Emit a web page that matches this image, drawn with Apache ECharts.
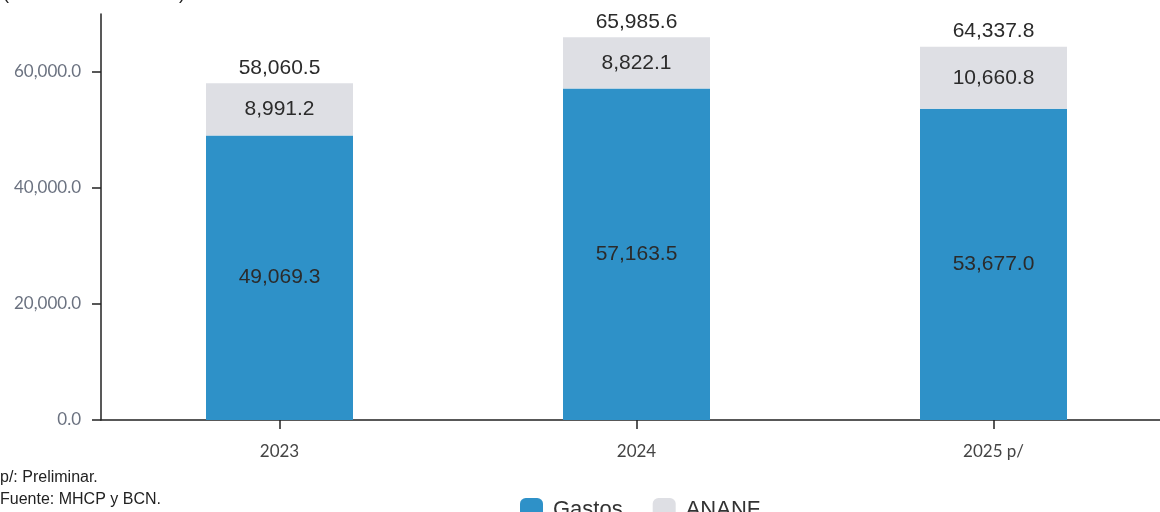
<!DOCTYPE html>
<html><head><meta charset="utf-8">
<script src="https://cdn.jsdelivr.net/npm/echarts@6/dist/echarts.min.js"></script>
<style>html,body{margin:0;padding:0;background:#fff;}#c{width:1160px;height:512px;}</style>
</head><body><div id="c"></div>
<script>
const categories = ['2023', '2024', '2025 p/'];
const gastos = [49069.3, 57163.5, 53677.0];
const ananf = [8991.2, 8822.1, 10660.8];
const totals = [58060.5, 65985.6, 64337.8];
const yTicks = [0, 20000, 40000, 60000];

const fmt = v => Number(v).toLocaleString('en-US', {minimumFractionDigits: 1, maximumFractionDigits: 1});
const chart = echarts.init(document.getElementById('c'), null, {renderer: 'canvas'});
const labelFont = {fontFamily: 'Liberation Sans', fontSize: 21, color: '#2b2b2b'};
chart.setOption({
  animation: false,
  grid: {left: 101, width: 1071, top: 14, bottom: 92, containLabel: false, outerBoundsMode: 'none'},
  graphic: [
    {type: 'text', left: 3, top: -15, style: {text: '(Millones de córdobas)', font: '18px "Liberation Sans"', fill: '#222'}},
    {type: 'text', left: 0, top: 470, style: {text: 'p/: Preliminar.', font: '16px "Liberation Sans"', fill: '#222'}},
    {type: 'text', left: 0, top: 492, style: {text: 'Fuente: MHCP y BCN.', font: '16px "Liberation Sans"', fill: '#222'}}
  ],
  legend: {
    bottom: -14, left: 515, itemWidth: 23, itemHeight: 23, itemGap: 30,
    icon: 'roundRect',
    textStyle: {fontFamily: 'Liberation Sans', fontSize: 22, color: '#333', padding: [0, 0, 0, 5]},
    data: ['Gastos', 'ANANF']
  },
  xAxis: {
    type: 'category', data: categories,
    axisLine: {lineStyle: {color: '#222', width: 1.5}},
    axisTick: {show: true, alignWithLabel: true, length: 9, lineStyle: {color: '#222', width: 1.5}},
    axisLabel: {margin: 23, fontFamily: 'Lato', fontSize: 17, color: '#444'}
  },
  yAxis: {
    type: 'value', min: 0, max: 70000, interval: 20000,
    splitLine: {show: false},
    axisLine: {show: true, lineStyle: {color: '#222', width: 1.5}},
    axisTick: {show: true, length: 9, lineStyle: {color: '#222', width: 1.5}},
    axisLabel: {margin: 20, fontFamily: 'Lato', fontSize: 17, color: '#6b7280', showMaxLabel: false,
      formatter: v => yTicks.includes(v) ? fmt(v) : ''}
  },
  series: [
    {name: 'Gastos', type: 'bar', stack: 't', data: gastos, barWidth: 147,
      itemStyle: {color: '#2E91C8'},
      label: {show: true, position: 'inside', formatter: p => fmt(p.value), ...labelFont}},
    {name: 'ANANF', type: 'bar', stack: 't', data: ananf, barWidth: 147,
      itemStyle: {color: '#DEDFE4'},
      label: {show: true, position: 'inside', formatter: p => fmt(p.value), ...labelFont}},
    {name: 'Total', type: 'bar', stack: 't', data: totals.map(() => 0), barWidth: 147,
      itemStyle: {color: 'transparent'}, legendHoverLink: false,
      label: {show: true, position: 'top', distance: 5, formatter: p => fmt(totals[p.dataIndex]), ...labelFont}}
  ]
});
</script></body></html>
